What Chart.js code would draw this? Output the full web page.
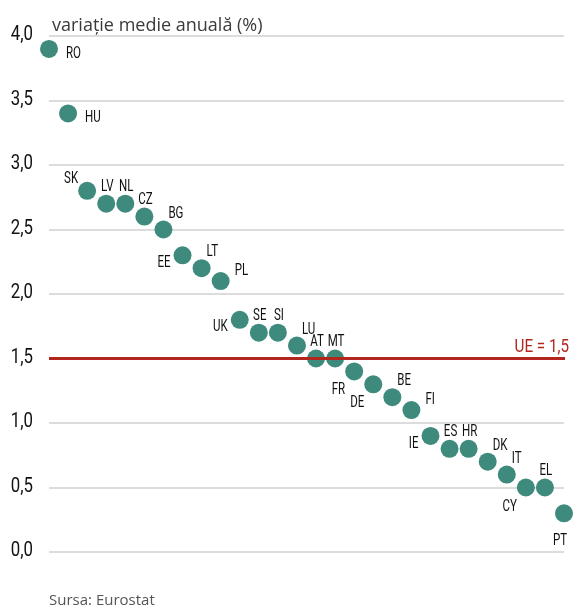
<!DOCTYPE html>
<html>
<head>
<meta charset="utf-8">
<script src="https://cdn.jsdelivr.net/npm/chart.js@4"></script>
<style>
  html, body { margin: 0; padding: 0; background: #fff; }
  #wrap { width: 573px; height: 608px; position: relative; }
</style>
</head>
<body>
<div id="wrap"><canvas id="c" width="573" height="608"></canvas></div>
<script>
// ---- data ----
const countries = ['RO','HU','SK','LV','NL','CZ','BG','EE','LT','PL','UK','SE','SI','LU','AT','MT','FR','DE','BE','FI','IE','ES','HR','DK','IT','CY','EL','PT'];
const values    = [3.9, 3.4, 2.8, 2.7, 2.7, 2.6, 2.5, 2.3, 2.2, 2.1, 1.8, 1.7, 1.7, 1.6, 1.5, 1.5, 1.4, 1.3, 1.2, 1.1, 0.9, 0.8, 0.8, 0.7, 0.6, 0.5, 0.5, 0.3];
const labelPlacement = ['E','E','NW','N','N','N','NE','SW','NE','E2','W','N','N','NE','N','N','SSW','SSW','NE','E2','SW','N','N','NE','NE','SSW','N','S'];
const euAverage = 1.5;
const euLabel = 'UE = 1,5';
const yTicks = [0, 0.5, 1, 1.5, 2, 2.5, 3, 3.5, 4];
const titleText = 'variație medie anuală (%)';
const sourceText = 'Sursa: Eurostat';

const FONT = 'Roboto, "Liberation Sans", sans-serif';
const TEAL = '#3e8a7d';
const RED = '#b3261e';

const placements = {
  E:   {dx: 17, dy: 5,  align: 'left'},
  NW:  {dx: -9, dy: -12, align: 'right'},
  N:   {dx: 1,  dy: -17, align: 'center'},
  NE:  {dx: 5,  dy: -16, align: 'left'},
  E2:  {dx: 14, dy: -10, align: 'left'},
  W:   {dx: -12, dy: 7, align: 'right'},
  SW:  {dx: -12, dy: 8, align: 'right'},
  SSW: {dx: -9, dy: 19, align: 'right'},
  S:   {dx: -4, dy: 28, align: 'center'}
};

// draws text horizontally compressed to imitate a condensed face
function condText(ctx, text, x, y, align, sx) {
  ctx.save();
  ctx.translate(x, y);
  ctx.scale(sx, 1);
  ctx.textAlign = align;
  ctx.fillText(text, 0, 0);
  ctx.restore();
}

const decor = {
  id: 'decor',
  afterDatasetsDraw(chart) {
    const {ctx, chartArea, scales} = chart;
    const y = scales.y.getPixelForValue(euAverage);
    ctx.save();
    ctx.strokeStyle = RED;
    ctx.lineWidth = 3;
    ctx.beginPath();
    ctx.moveTo(chartArea.left, y);
    ctx.lineTo(chartArea.right + 1, y);
    ctx.stroke();
    ctx.fillStyle = RED;
    ctx.font = '19px ' + FONT;
    ctx.textBaseline = 'alphabetic';
    condText(ctx, euLabel, 569, y - 7, 'right', 0.8);
    ctx.restore();
  },
  afterDraw(chart) {
    const {ctx, scales} = chart;
    const meta = chart.getDatasetMeta(0);
    ctx.save();
    ctx.font = '16px ' + FONT;
    ctx.fillStyle = '#111';
    ctx.textBaseline = 'middle';
    meta.data.forEach((pt, i) => {
      const p = placements[labelPlacement[i]];
      condText(ctx, countries[i], pt.x + p.dx, pt.y + p.dy, p.align, 0.72);
    });
    // y tick labels
    ctx.font = '20px ' + FONT;
    ctx.fillStyle = '#111';
    yTicks.forEach(v => {
      condText(ctx, v.toFixed(1).replace('.', ','), 33, scales.y.getPixelForValue(v) - 1, 'right', 0.84);
    });
    ctx.font = '18px "Open Sans", sans-serif';
    ctx.fillStyle = '#3a3a3a';
    ctx.textAlign = 'left';
    ctx.textBaseline = 'alphabetic';
    ctx.fillText(titleText, 52, 31);
    ctx.font = '15px "Open Sans", sans-serif';
    ctx.fillStyle = '#555';
    ctx.fillText(sourceText, 49, 605);
    ctx.restore();
  }
};

new Chart(document.getElementById('c'), {
  type: 'line',
  data: {
    labels: countries,
    datasets: [{
      data: values,
      showLine: false,
      pointRadius: 9,
      pointHoverRadius: 9,
      pointBackgroundColor: TEAL,
      pointBorderColor: TEAL,
      pointBorderWidth: 0,
      clip: false
    }]
  },
  options: {
    responsive: false,
    animation: false,
    events: [],
    layout: { padding: { top: 36, bottom: 56, right: 7, left: 0 } },
    plugins: { legend: { display: false }, tooltip: { enabled: false } },
    scales: {
      x: { display: false, offset: false },
      y: {
        min: 0, max: 4,
        afterBuildTicks(scale) { scale.ticks = yTicks.map(v => ({value: v})); },
        afterFit(scale) { scale.width = 49; },
        border: { display: false },
        grid: { color: '#dcdcdc', lineWidth: 2, drawTicks: false },
        ticks: { display: false }
      }
    }
  },
  plugins: [decor]
});
</script>
</body>
</html>
